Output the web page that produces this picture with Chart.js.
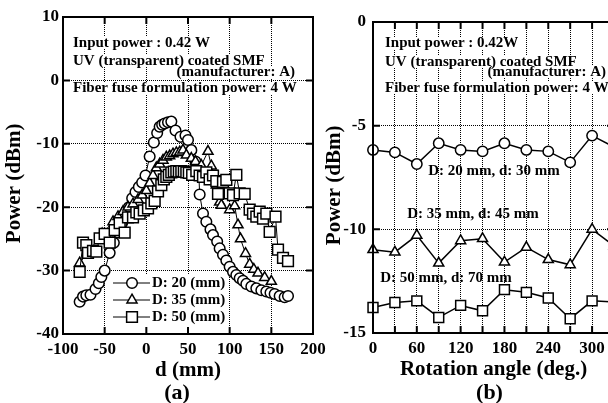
<!DOCTYPE html>
<html><head><meta charset="utf-8">
<script src="https://cdn.jsdelivr.net/npm/chart.js@4/dist/chart.umd.min.js"></script>
<style>
html,body{margin:0;padding:0;overflow:hidden;background:#fff;width:608px;height:403px;}
#wa{position:absolute;left:0;top:0;width:340px;height:403px;}
#wb{position:absolute;left:320px;top:0;width:330px;height:403px;}
</style></head><body>
<div id="wa"><canvas id="ca"></canvas></div>
<div id="wb"><canvas id="cb"></canvas></div>
<script>
// ---------- Panel (a) data: position d (mm) vs power (dBm) ----------
const A_D20_X = [-80,-76,-72,-67,-61,-57,-54,-50,-44,-39,-34,-29,-25,-21,-17,-13,-9,-5,-1,4,9,13,16,19,22,26,30,35,41,47,50,54,59,63,64,68,72,77,80,85,88,92,96,100,104,108,112,116,120,126,132,138,144,149,154,160,166,170];
const A_D20_Y = [-34.9,-34.1,-33.9,-33.8,-32.9,-32.0,-31.0,-30.0,-27.2,-25.6,-24.0,-22.5,-21.2,-20.0,-18.6,-17.6,-16.8,-16.1,-15.0,-12.0,-9.8,-8.3,-7.3,-7.0,-6.8,-6.6,-6.5,-7.9,-8.9,-8.7,-9.4,-11.0,-12.8,-14.8,-18.0,-21.0,-22.3,-23.5,-24.4,-25.4,-26.5,-27.5,-28.4,-29.4,-30.2,-30.7,-31.2,-31.6,-32.1,-32.5,-32.8,-33.1,-33.3,-33.5,-33.7,-34.0,-34.2,-34.0];
const A_D35_X = [-80,-53,-40,-34,-28,-22,-16,-10,-5,0,4,8,12,16,20,24,28,32,36,40,44,48,54,59,66,74,78,84,88,90,100,106,110,113,119,124,129,134,142,150];
const A_D35_Y = [-28.8,-24.2,-22.3,-21.5,-20.7,-20.0,-19.5,-18.8,-18.1,-17.4,-16.2,-15.0,-13.8,-13.2,-12.6,-12.1,-11.9,-11.6,-11.4,-11.3,-11.0,-11.8,-12.3,-12.8,-13.4,-11.2,-13.5,-16.5,-19.2,-19.7,-20.4,-19.8,-22.8,-25.0,-27.3,-29.0,-29.8,-30.4,-31.1,-31.7];
const A_D50_X = [-80,-76,-72,-70,-64,-60,-56,-50,-44,-38,-32,-26,-22,-16,-12,-8,-3,2,6,10,14,18,21,24,27,30,33,36,39,42,45,48,51,55,60,64,68,72,76,80,84,86,92,96,100,104,108,112,118,124,128,132,136,140,144,148,155,158,164,170];
const A_D50_Y = [-30.2,-25.6,-26.0,-27.2,-26.9,-27.0,-24.9,-24.2,-25.6,-23.6,-22.5,-24.0,-21.6,-21.6,-20.8,-21.0,-20.5,-20.2,-19.4,-19.0,-17.5,-16.5,-15.6,-15.2,-14.9,-14.5,-14.4,-14.3,-14.4,-14.3,-14.4,-14.5,-14.6,-14.9,-14.3,-15.0,-15.2,-14.5,-15.6,-15.0,-15.9,-17.9,-16.0,-15.7,-17.8,-18.1,-14.9,-17.8,-17.9,-20.4,-21.0,-21.5,-20.7,-21.8,-21.0,-23.9,-21.5,-26.7,-28.0,-28.5];
const A_LABELS = ['D: 20 (mm)','D: 35 (mm)','D: 50 (mm)'];

// ---------- Panel (b) data: rotation angle (deg.) vs power (dBm) ----------
const B_ANGLE = [0,30,60,90,120,150,180,210,240,270,300,330];
const B_D20 = [-6.17,-6.29,-6.85,-5.85,-6.17,-6.24,-5.85,-6.17,-6.24,-6.77,-5.48,-6.03];
const B_D35 = [-10.98,-11.10,-10.29,-11.63,-10.55,-10.45,-11.58,-10.87,-11.46,-11.71,-10.0,-10.8];
const B_D50 = [-13.77,-13.53,-13.45,-14.25,-13.67,-13.93,-12.91,-13.04,-13.31,-14.31,-13.45,-13.5];
const B_LABELS = ['D: 20 mm, d: 30 mm','D: 35 mm, d: 45 mm','D: 50 mm, d: 70 mm'];

const NOTES_A = ['Input power : 0.42 W','UV (transparent) coated SMF','(manufacturer: A)','Fiber fuse formulation power: 4 W'];
const NOTES_B = ['Input power : 0.42W','UV (transparent) coated SMF','(manufacturer: A)','Fiber fuse formulation power: 4 W'];

const FAM = "'Liberation Serif','Times New Roman',serif";
Chart.defaults.font.family = FAM;
Chart.defaults.font.weight = 'bold';
Chart.defaults.color = '#000';

function xy(xs, ys){ return xs.map((x,i)=>({x:x, y:ys[i]})); }

const framePlugin = {
  id:'frame',
  afterDatasetsDraw(chart){
    const {ctx, chartArea:a, scales:{x, y}} = chart;
    ctx.save();
    ctx.strokeStyle = '#000'; ctx.lineWidth = 2;
    ctx.strokeRect(a.left, a.top, a.right-a.left, a.bottom-a.top);
    const L = 7;
    ctx.beginPath();
    x.ticks.forEach(t=>{const p=x.getPixelForValue(t.value); ctx.moveTo(p,a.top); ctx.lineTo(p,a.top+L); ctx.moveTo(p,a.bottom); ctx.lineTo(p,a.bottom-L);});
    y.ticks.forEach(t=>{const p=y.getPixelForValue(t.value); ctx.moveTo(a.left,p); ctx.lineTo(a.left+L,p); ctx.moveTo(a.right,p); ctx.lineTo(a.right-L,p);});
    ctx.stroke();
    ctx.restore();
  }
};

const notesPlugin = {
  id:'notes',
  afterDatasetsDraw(chart, args, o){
    const ctx = chart.ctx;
    ctx.save();
    ctx.textBaseline = 'middle';
    ctx.font = "bold 15px " + FAM;
    const boxed = o.boxed || [];
    boxed.forEach(n=>{
      const w = ctx.measureText(n.text).width;
      const x0 = n.align==='right' ? n.x-w : n.x;
      ctx.fillStyle = '#fff';
      ctx.fillRect(x0-1, n.y-6, w+2, 12);
    });
    ctx.fillStyle = '#000';
    boxed.concat(o.plain || []).forEach(n=>{
      ctx.textAlign = n.align || 'left';
      ctx.fillText(n.text, n.x, n.y);
    });
    if (o.caption){
      ctx.font = "bold 22px " + FAM;
      ctx.textAlign = 'center';
      ctx.fillText(o.caption.text, o.caption.x, o.caption.y);
    }
    ctx.restore();
  }
};

const legendPlugin = {
  id:'boxlegend',
  afterDatasetsDraw(chart, args, o){
    if (!o.show) return;
    const ctx = chart.ctx;
    ctx.save();
    ctx.fillStyle = '#fff';
    ctx.fillRect(110, 274, 116, 53);
    ctx.font = "bold 15px " + FAM;
    ctx.textBaseline = 'middle';
    ctx.textAlign = 'left';
    const ys = [283, 300, 317];
    chart.data.datasets.forEach((ds, i)=>{
      const y = ys[i];
      ctx.strokeStyle = '#000'; ctx.lineWidth = 1;
      ctx.beginPath(); ctx.moveTo(113, y); ctx.lineTo(150, y); ctx.stroke();
      ctx.fillStyle = '#fff'; ctx.lineWidth = ds.pointBorderWidth;
      Chart.helpers.drawPoint(ctx, {pointStyle: ds.pointStyle, radius: ds.pointRadius, rotation: 0, borderWidth: ds.pointBorderWidth}, 132, y);
      ctx.fillStyle = '#000';
      ctx.fillText(ds.label, 152, y);
    });
    ctx.restore();
  }
};

function ds(label, data, style, r, order, lw){
  return {label, data, pointStyle:style, pointRadius:r, order,
    borderColor:'#000', borderWidth:lw, backgroundColor:'#fff',
    pointBackgroundColor:'#fff', pointBorderColor:'#000', pointBorderWidth:1.5,
    tension:0, fill:false, clip:false};
}

const tickFont = {size:17, weight:'bold', family:FAM};
const titleFont = {size:21, weight:'bold', family:FAM, lineHeight:1};

new Chart(document.getElementById('ca'), {
  type:'line',
  data:{datasets:[
    ds(A_LABELS[0], xy(A_D20_X, A_D20_Y), 'circle', 5.3, 3, 1),
    ds(A_LABELS[1], xy(A_D35_X, A_D35_Y), 'triangle', 5.8, 2, 1),
    ds(A_LABELS[2], xy(A_D50_X, A_D50_Y), 'rect', 7.6, 1, 1)
  ]},
  options:{
    responsive:true, maintainAspectRatio:false, animation:false, devicePixelRatio:1,
    layout:{padding:{left:0, top:17, right:27, bottom:0}},
    plugins:{
      legend:{display:false}, tooltip:{enabled:false},
      boxlegend:{show:true},
      notes:{
        boxed:[
          {text:NOTES_A[0], x:73, y:43},
          {text:NOTES_A[1], x:73, y:61},
          {text:NOTES_A[2], x:295, y:72, align:'right'},
          {text:NOTES_A[3], x:73, y:88}
        ],
        caption:{text:'(a)', x:177, y:393}
      }
    },
    scales:{
      x:{type:'linear', min:-100, max:200, afterFit:s=>{s.height=69;},
        ticks:{stepSize:50, autoSkip:false, maxRotation:0, padding:5, font:tickFont, color:'#000'},
        grid:{color:'#000', lineWidth:1, drawTicks:false},
        border:{display:false, dash:[1,1]},
        title:{display:true, text:'d (mm)', font:titleFont, color:'#000', padding:{top:0, bottom:22}}},
      y:{type:'linear', min:-40, max:10, afterFit:s=>{s.width=63;},
        ticks:{stepSize:10, autoSkip:false, padding:4, font:tickFont, color:'#000'},
        grid:{color:'#000', lineWidth:1, drawTicks:false},
        border:{display:false, dash:[1,1]},
        title:{display:true, text:'Power (dBm)   ', font:titleFont, color:'#000', padding:{top:4.5, bottom:0}}}
    }
  },
  plugins:[notesPlugin, legendPlugin, framePlugin]
});

new Chart(document.getElementById('cb'), {
  type:'line',
  data:{datasets:[
    ds(B_LABELS[0], xy(B_ANGLE, B_D20), 'circle', 5.2, 3, 1.5),
    ds(B_LABELS[1], xy(B_ANGLE, B_D35), 'triangle', 5.8, 2, 1.5),
    ds(B_LABELS[2], xy(B_ANGLE, B_D50), 'rect', 7, 1, 1.5)
  ]},
  options:{
    responsive:true, maintainAspectRatio:false, animation:false, devicePixelRatio:1,
    layout:{padding:{left:0, top:22, right:36, bottom:0}},
    plugins:{
      legend:{display:false}, tooltip:{enabled:false},
      boxlegend:{show:false},
      notes:{
        boxed:[
          {text:NOTES_B[0], x:65, y:43},
          {text:NOTES_B[1], x:65, y:62},
          {text:NOTES_B[2], x:286, y:72, align:'right'},
          {text:NOTES_B[3], x:65, y:88}
        ],
        plain:[
          {text:B_LABELS[0], x:174, y:171, align:'center'},
          {text:B_LABELS[1], x:153, y:214, align:'center'},
          {text:B_LABELS[2], x:126, y:278, align:'center'}
        ],
        caption:{text:'(b)', x:169.5, y:393}
      }
    },
    scales:{
      x:{type:'linear', min:0, max:330, afterFit:s=>{s.height=70;},
        ticks:{stepSize:30, autoSkip:false, maxRotation:0, padding:5, font:tickFont, color:'#000',
          callback:v=> (v % 60 === 0 ? String(v) : '')},
        grid:{color:'#000', lineWidth:1, drawTicks:false},
        border:{display:false, dash:[1,1]},
        title:{display:true, text:'Rotation angle (deg.)', font:titleFont, color:'#000', padding:{top:0, bottom:22.5}}},
      y:{type:'linear', min:-15, max:0, afterFit:s=>{s.width=53;},
        ticks:{stepSize:5, autoSkip:false, padding:7, font:tickFont, color:'#000'},
        grid:{color:'#000', lineWidth:1, drawTicks:false},
        border:{display:false, dash:[1,1]},
        title:{display:true, text:'Power (dBm)   ', font:titleFont, color:'#000', padding:{top:4.5, bottom:0}}}
    }
  },
  plugins:[notesPlugin, legendPlugin, framePlugin]
});
</script>
</body></html>
